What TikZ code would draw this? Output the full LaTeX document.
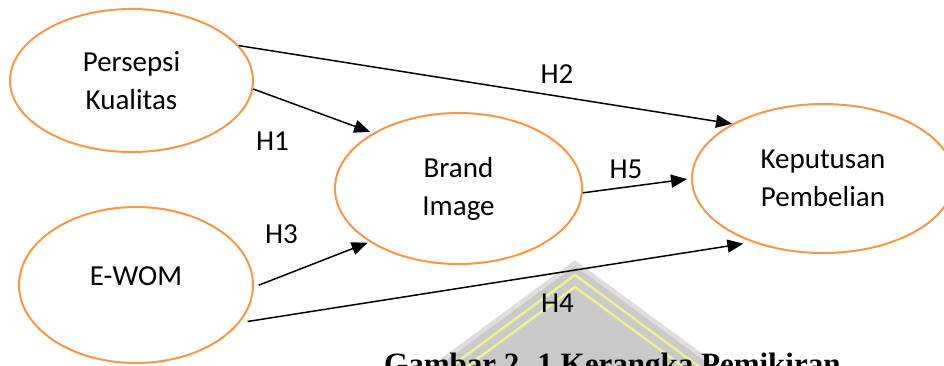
\documentclass[tikz,border=0pt]{standalone}
\usepackage{fontspec}
\setmainfont{Carlito}
\newfontfamily\capfont{Liberation Serif}
\usetikzlibrary{shapes.geometric,arrows.meta}
\definecolor{ovalorange}{RGB}{247,150,70}
\definecolor{wmgray}{RGB}{201,201,201}
\definecolor{wmrim}{RGB}{222,222,222}
\definecolor{wmyellow}{RGB}{240,240,150}
\begin{document}
\begin{tikzpicture}[x=1pt,y=-1pt,
  var/.style={ellipse, draw=ovalorange, line width=2pt, inner sep=0pt, align=center,
              font=\fontsize{29}{38}\selectfont},
  hyp/.style={inner sep=0pt, font=\fontsize{29}{34}\selectfont},
  link/.style={line width=1.5pt, -{Triangle[length=16pt,width=13pt]}}]
\useasboundingbox (0,0) rectangle (944,365);
\clip (0,0) rectangle (944,365);
% faded watermark behind the figure
\fill[wmrim] (575,260) -- (428,368) -- (722,368) -- cycle;
\fill[wmgray] (575,266) -- (436,368) -- (714,368) -- cycle;
\draw[wmyellow, line width=2.5pt] (449,368) -- (575,275) -- (701,368);
\draw[wmyellow, line width=2.5pt] (465,368) -- (575,287) -- (685,368);
% variables
\node[var, minimum width=243pt, minimum height=143pt] (pk) at (131.5,80.5) {Persepsi\\Kualitas};
\node[var, minimum width=234pt, minimum height=156pt, text depth=18pt] (ewom) at (136,285) {E-WOM};
\node[var, minimum width=247pt, minimum height=151pt] (bi) at (458.5,188.5) {Brand\\Image};
\node[var, minimum width=262pt, minimum height=149pt] (kp) at (823,178.5) {Keputusan\\Pembelian};
% hypotheses paths
\draw[link] (pk.18.1) -- (kp.149.1);
\draw[link, shorten >=3pt] (pk.356.5) -- (bi.147.4);
\draw[link, shorten >=4pt] (bi.358.8) -- (kp.180.2);
\draw[link, shorten <=5pt, shorten >=2pt] (ewom.359.1) -- (bi.211.6);
\draw[link, shorten <=8pt, shorten >=9pt] (ewom.340.6) -- (kp.222.1);
% labels
\node[hyp] (h1) at (272.5,141.5) {H1};
\node[hyp] (h2) at (557,74) {H2};
\node[hyp] (h3) at (281.5,234) {H3};
\node[hyp] (h4) at (557.5,303.5) {H4};
\node[hyp] (h5) at (626,169.5) {H5};
% caption (cut by the lower edge, as in the reference)
\node[anchor=base west, inner sep=0pt, font=\capfont\bfseries\fontsize{31}{31}\selectfont] (cap) at (384,374) {Gambar 2. 1 Kerangka Pemikiran};
\end{tikzpicture}
\end{document}
